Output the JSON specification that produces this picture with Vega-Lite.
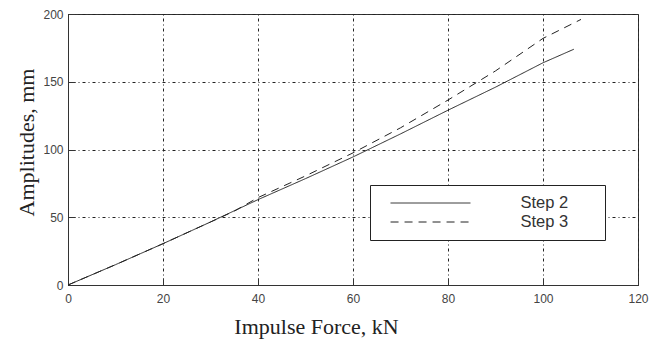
{
  "$schema": "https://vega.github.io/schema/vega-lite/v6.json",
  "width": 570,
  "height": 271,
  "autosize": "none",
  "padding": {"left": 68, "top": 14, "right": 12, "bottom": 54},
  "background": "white",
  "config": {
    "view": {"stroke": "#333", "strokeWidth": 1},
    "axis": {
      "grid": true,
      "gridColor": "#222",
      "gridDash": [1, 3, 3, 3],
      "gridWidth": 1,
      "gridOpacity": 1,
      "domainColor": "#333",
      "tickColor": "#333",
      "tickSize": -7,
      "labelFont": "Liberation Sans",
      "labelFontSize": 12,
      "labelColor": "#444",
      "labelFlush": false,
      "labelOverlap": false,
      "titleFont": "Liberation Serif",
      "titleFontSize": 22,
      "titleFontWeight": "normal",
      "titleColor": "#222"
    },
    "legend": {
      "labelFont": "Liberation Sans",
      "labelFontSize": 16.5,
      "labelColor": "#333"
    }
  },
  "data": {
    "values": [
      {"force": 0, "amp": 0, "series": "Step 2"},
      {"force": 10, "amp": 15, "series": "Step 2"},
      {"force": 20, "amp": 30.5, "series": "Step 2"},
      {"force": 30, "amp": 46.5, "series": "Step 2"},
      {"force": 40, "amp": 63, "series": "Step 2"},
      {"force": 50, "amp": 78.5, "series": "Step 2"},
      {"force": 60, "amp": 94.5, "series": "Step 2"},
      {"force": 70, "amp": 111.5, "series": "Step 2"},
      {"force": 80, "amp": 129, "series": "Step 2"},
      {"force": 90, "amp": 146, "series": "Step 2"},
      {"force": 100, "amp": 164, "series": "Step 2"},
      {"force": 106.5, "amp": 174, "series": "Step 2"},
      {"force": 0, "amp": 0, "series": "Step 3"},
      {"force": 10, "amp": 15, "series": "Step 3"},
      {"force": 20, "amp": 30.5, "series": "Step 3"},
      {"force": 30, "amp": 46.5, "series": "Step 3"},
      {"force": 35, "amp": 54.5, "series": "Step 3"},
      {"force": 40, "amp": 64.5, "series": "Step 3"},
      {"force": 50, "amp": 80.5, "series": "Step 3"},
      {"force": 60, "amp": 97.5, "series": "Step 3"},
      {"force": 70, "amp": 116, "series": "Step 3"},
      {"force": 80, "amp": 136.5, "series": "Step 3"},
      {"force": 90, "amp": 158, "series": "Step 3"},
      {"force": 100, "amp": 182, "series": "Step 3"},
      {"force": 108, "amp": 196, "series": "Step 3"}
    ]
  },
  "mark": {"type": "line", "color": "#222", "strokeWidth": 1},
  "encoding": {
    "x": {
      "field": "force",
      "type": "quantitative",
      "scale": {"domain": [0, 120], "nice": false, "zero": false},
      "axis": {
        "values": [0, 20, 40, 60, 80, 100, 120],
        "title": "Impulse Force, kN",
        "labelPadding": 15,
        "titleX": 248,
        "titleY": 48,
        "titleAlign": "center",
        "titleBaseline": "alphabetic",
        "titleAnchor": null
      }
    },
    "y": {
      "field": "amp",
      "type": "quantitative",
      "scale": {"domain": [0, 200], "nice": false, "zero": false},
      "axis": {
        "values": [0, 50, 100, 150, 200],
        "title": "Amplitudes, mm",
        "labelPadding": 12,
        "titleX": -35,
        "titleY": 128,
        "titleAngle": -90,
        "titleAlign": "center",
        "titleBaseline": "alphabetic",
        "titleAnchor": null
      }
    },
    "strokeDash": {
      "field": "series",
      "type": "nominal",
      "scale": {"domain": ["Step 2", "Step 3"], "range": [[1, 0], [8, 6]]},
      "legend": {
        "title": null,
        "orient": "none",
        "legendX": 302,
        "legendY": 171,
        "padding": 9,
        "fillColor": "white",
        "strokeColor": "#222",
        "symbolType": "M-4.7,0H4.7",
        "symbolSize": 289,
        "symbolStrokeWidth": 1,
        "symbolStrokeColor": "#222",
        "symbolFillColor": "transparent",
        "symbolOffset": 42.5,
        "labelOffset": 81,
        "rowPadding": 1,
        "labelExpr": "datum.label + '\u00a0\u00a0\u00a0\u00a0\u00a0\u00a0\u200b'"
      }
    }
  }
}
